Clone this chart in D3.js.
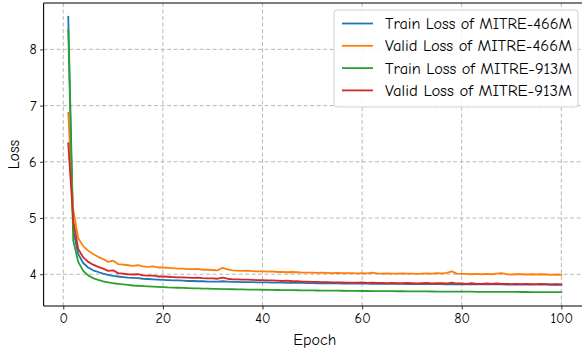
<!DOCTYPE html>
<html><head><meta charset="utf-8">
<script src="https://cdn.jsdelivr.net/npm/d3@7"></script>
<style>
body{margin:0;background:#fff;}
svg{display:block;font-family:"Comic Sans MS","Comic Neue","DejaVu Sans",sans-serif;}
</style></head>
<body><svg id="c" width="582" height="351"></svg>
<script>
const epochs = d3.range(1, 101);
const xTicks = [0, 20, 40, 60, 80, 100];
const yTicks = [4, 5, 6, 7, 8];
const seriesNames = ["Train Loss of MITRE-466M","Valid Loss of MITRE-466M","Train Loss of MITRE-913M","Valid Loss of MITRE-913M"];
const seriesColors = ["#1f77b4","#ff7f0e","#2ca02c","#d62728"];

const train466 = [8.58,4.78,4.36,4.20,4.12,4.07,4.04,4.01,3.99,3.97,
3.96,3.95,3.94,3.935,3.93,3.92,3.915,3.91,3.905,3.90,
3.895,3.89,3.89,3.885,3.88,3.88,3.875,3.875,3.87,3.87,
3.87,3.875,3.87,3.865,3.865,3.86,3.86,3.86,3.855,3.855,
3.855,3.85,3.85,3.85,3.848,3.846,3.845,3.845,3.843,3.842,
3.84,3.84,3.838,3.837,3.836,3.835,3.835,3.834,3.833,3.832,
3.832,3.831,3.83,3.83,3.829,3.828,3.828,3.827,3.826,3.826,
3.825,3.825,3.824,3.824,3.823,3.823,3.822,3.826,3.822,3.821,
3.82,3.82,3.82,3.819,3.819,3.818,3.818,3.818,3.817,3.817,
3.816,3.816,3.815,3.815,3.815,3.814,3.814,3.813,3.813,3.812];

const valid466 = [6.87,5.15,4.64,4.50,4.42,4.36,4.31,4.27,4.22,4.24,
4.18,4.17,4.16,4.15,4.16,4.14,4.13,4.14,4.12,4.12,
4.115,4.11,4.10,4.10,4.09,4.09,4.095,4.08,4.08,4.075,
4.07,4.115,4.085,4.07,4.065,4.06,4.065,4.055,4.05,4.05,
4.045,4.05,4.04,4.04,4.035,4.04,4.035,4.03,4.03,4.03,
4.025,4.03,4.025,4.02,4.025,4.02,4.02,4.02,4.015,4.02,
4.015,4.03,4.015,4.01,4.015,4.01,4.01,4.015,4.01,4.01,
4.005,4.01,4.015,4.01,4.02,4.015,4.025,4.05,4.01,4.005,
4.005,4.00,4.005,4.00,4.005,4.00,4.01,4.02,4.00,3.995,
4.00,4.00,3.995,4.00,3.995,4.00,3.995,3.99,3.995,3.99];

const train913 = [8.35,4.60,4.22,4.06,3.98,3.93,3.90,3.875,3.855,3.84,
3.83,3.82,3.81,3.80,3.795,3.79,3.785,3.78,3.775,3.77,
3.765,3.762,3.76,3.756,3.753,3.75,3.748,3.745,3.743,3.74,
3.738,3.736,3.735,3.733,3.731,3.73,3.728,3.727,3.725,3.724,
3.723,3.721,3.72,3.719,3.718,3.716,3.715,3.714,3.713,3.712,
3.711,3.71,3.709,3.708,3.707,3.706,3.705,3.704,3.703,3.702,
3.702,3.701,3.70,3.699,3.699,3.698,3.697,3.697,3.696,3.695,
3.695,3.694,3.694,3.693,3.692,3.692,3.691,3.691,3.69,3.69,
3.689,3.689,3.688,3.688,3.687,3.687,3.686,3.686,3.685,3.685,
3.685,3.684,3.684,3.683,3.683,3.683,3.682,3.682,3.681,3.681];

const valid913 = [6.33,4.95,4.45,4.30,4.22,4.17,4.13,4.10,4.06,4.07,
4.02,4.01,4.00,3.995,4.00,3.98,3.975,3.975,3.96,3.96,
3.955,3.95,3.945,3.945,3.94,3.935,3.94,3.93,3.925,3.925,
3.92,3.94,3.92,3.91,3.91,3.905,3.905,3.90,3.895,3.895,
3.89,3.89,3.885,3.88,3.885,3.875,3.875,3.87,3.87,3.865,
3.865,3.86,3.86,3.855,3.855,3.855,3.85,3.85,3.85,3.855,
3.845,3.85,3.845,3.845,3.84,3.845,3.84,3.84,3.845,3.84,
3.835,3.84,3.845,3.835,3.84,3.84,3.835,3.85,3.835,3.835,
3.83,3.84,3.83,3.83,3.835,3.83,3.835,3.83,3.83,3.825,
3.83,3.825,3.83,3.825,3.825,3.83,3.825,3.82,3.825,3.82];

const allSeries = [train466, valid466, train913, valid913];

const svg = d3.select("#c");
const L = 43.6, R = 586, T = 3, B = 306;
const x = d3.scaleLinear().domain([-3.95, 104.95]).range([L, R]);
const y = d3.scaleLinear().domain([3.435, 8.825]).range([B, T]);

// grid
const grid = svg.append("g");
grid.selectAll("line.gx").data(xTicks).join("line")
  .attr("x1", d => x(d)).attr("x2", d => x(d)).attr("y1", T).attr("y2", B)
  .attr("stroke", "#b0b0b0").attr("stroke-width", 0.9).attr("stroke-dasharray", "4,2.5");
grid.selectAll("line.gy").data(yTicks).join("line")
  .attr("y1", d => y(d)).attr("y2", d => y(d)).attr("x1", L).attr("x2", R)
  .attr("stroke", "#b0b0b0").attr("stroke-width", 0.9).attr("stroke-dasharray", "4,2.5");

// lines
const line = d3.line().x((d, i) => x(epochs[i])).y(d => y(d));
svg.append("defs").append("clipPath").attr("id","clip").append("rect")
  .attr("x", L).attr("y", T).attr("width", R - L).attr("height", B - T);
const lg = svg.append("g").attr("clip-path", "url(#clip)");
allSeries.forEach((s, i) => {
  lg.append("path").attr("d", line(s)).attr("fill", "none")
    .attr("stroke", seriesColors[i]).attr("stroke-width", 1.8)
    .attr("stroke-linejoin", "round").attr("stroke-linecap", "square");
});

// axes
const xAxis = d3.axisBottom(x).tickValues(xTicks).tickSize(3.5).tickPadding(3.5).tickFormat(d3.format("d"));
const yAxis = d3.axisLeft(y).tickValues(yTicks).tickSize(3.5).tickPadding(3.5).tickFormat(d3.format("d"));
const gx = svg.append("g").attr("transform", `translate(0,${B})`).call(xAxis);
const gy = svg.append("g").attr("transform", `translate(${L},0)`).call(yAxis);
[gx, gy].forEach(g => {
  g.select(".domain").remove();
  g.selectAll(".tick line").attr("stroke", "#000").attr("stroke-width", 0.8);
  g.selectAll(".tick text").attr("fill", "#000").style("font-size", "14px")
    .style("font-family", "'Comic Sans MS','Comic Neue','DejaVu Sans',sans-serif");
});
// spines
svg.append("line").attr("x1", L).attr("x2", L).attr("y1", T).attr("y2", B).attr("stroke", "#000").attr("stroke-width", 1.1);
svg.append("line").attr("x1", L).attr("x2", R).attr("y1", B).attr("y2", B).attr("stroke", "#000").attr("stroke-width", 1.1);
svg.append("line").attr("x1", L).attr("x2", R).attr("y1", T).attr("y2", T).attr("stroke", "#000").attr("stroke-width", 1.1);

// axis labels
svg.append("text").attr("x", (L + R) / 2).attr("y", 345).attr("text-anchor", "middle")
  .attr("fill", "#000").style("font-size", "16px").text("Epoch");
svg.append("text").attr("transform", `translate(19,${(T + B) / 2}) rotate(-90)`).attr("text-anchor", "middle")
  .attr("fill", "#000").style("font-size", "16px").text("Loss");

// legend
const leg = svg.append("g");
leg.append("rect").attr("x", 334).attr("y", 10).attr("width", 244).attr("height", 97).attr("rx", 3)
  .attr("fill", "#fff").attr("fill-opacity", 0.85).attr("stroke", "#d0d0d0").attr("stroke-width", 1);
seriesNames.forEach((n, i) => {
  const yy = 23.5 + i * 22.3;
  leg.append("line").attr("x1", 342).attr("x2", 373).attr("y1", yy).attr("y2", yy)
    .attr("stroke", seriesColors[i]).attr("stroke-width", 1.8);
  leg.append("text").attr("x", 385).attr("y", yy + 5.5).attr("fill", "#000").style("font-size", "15px")
    .attr("textLength", 187).attr("lengthAdjust", "spacingAndGlyphs").text(n);
});
</script></body></html>
